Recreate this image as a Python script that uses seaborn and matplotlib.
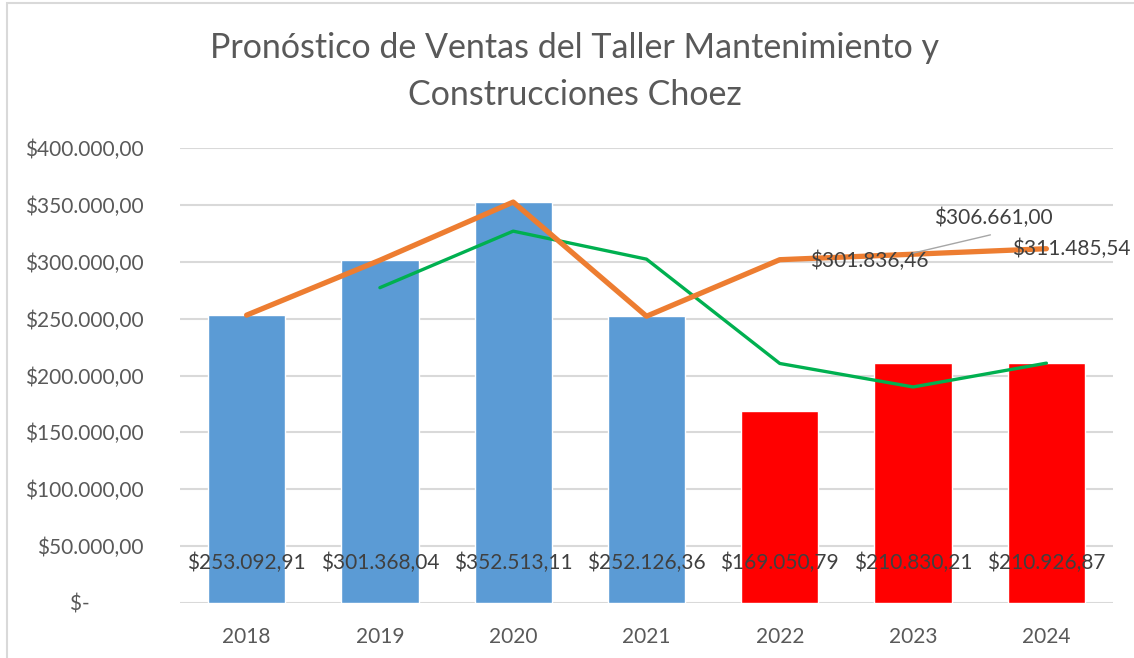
import numpy as np
import pandas as pd
import matplotlib
matplotlib.use("Agg")
import matplotlib.pyplot as plt
import seaborn as sns

# ------------------ data ------------------
years = ["2018", "2019", "2020", "2021", "2022", "2023", "2024"]
ventas = [253092.91, 301368.04, 352513.11, 252126.36, 169050.79, 210830.21, 210926.87]
tipo = ["real", "real", "real", "real", "pron", "pron", "pron"]
tendencia = [253092.91, 301368.04, 352513.11, 252126.36, 301836.46, 306661.00, 311485.54]
media_movil = [np.nan, 277230.48, 326940.58, 302319.74, 210588.58, 189940.50, 210878.54]

def fmt(v):
    s = f"{v:,.2f}"
    return "$" + s.replace(",", "X").replace(".", ",").replace("X", ".")

# ------------------ style ------------------
sns.set_style("white")
plt.rcParams["font.family"] = ["Lato", "DejaVu Sans"]
GREY = "#595959"
LBL = "#404040"
FS = 15

df = pd.DataFrame({"year": years, "ventas": ventas, "tipo": tipo, "pos": np.arange(len(years))})

fig = plt.figure(figsize=(11.34, 6.58), dpi=100)
ax = fig.add_axes([0.1587, 0.0836, 0.8228, 0.6914])

sns.barplot(data=df, x="year", y="ventas", hue="tipo", dodge=False, width=0.58,
            palette={"real": "#5B9BD5", "pron": "#FF0000"}, legend=False,
            saturation=1, ax=ax, zorder=2)
sns.lineplot(x=df["pos"], y=media_movil, color="#00B050", lw=2.4, ax=ax, zorder=3)
sns.lineplot(x=df["pos"], y=tendencia, color="#ED7D31", lw=3.8, ax=ax, zorder=4)

# bar labels (inside base)
for i, v in enumerate(ventas):
    ax.text(i, 35000, fmt(v), ha="center", va="center", fontsize=FS, color=LBL, zorder=5)

# forecast labels on the orange line
ax.text(4.67, tendencia[4] - 1000, fmt(tendencia[4]), ha="center", va="center",
        fontsize=FS, color=LBL, zorder=5)
ax.text(5.6, tendencia[5] + 31800, fmt(tendencia[5]), ha="center", va="center",
        fontsize=FS, color=LBL, zorder=5)
ax.plot([5.58, 5.0], [tendencia[5] + 17000, tendencia[5] + 1000], color="#A6A6A6", lw=1, zorder=5)
ax.text(6.19, tendencia[6], fmt(tendencia[6]), ha="center", va="center",
        fontsize=FS, color=LBL, zorder=5)

# axes
ax.set_ylim(0, 400000)
ax.set_xlim(-0.5, 6.5)
ax.set_yticks(np.arange(0, 400001, 50000))
ax.set_yticklabels(["$-" + " " * 10] + [fmt(v) for v in np.arange(50000, 400001, 50000)])
ax.yaxis.grid(True, color="#D9D9D9", lw=1.5, zorder=0)
ax.set_axisbelow(True)
ax.tick_params(axis="both", length=0, labelsize=FS, labelcolor=GREY)
ax.tick_params(axis="y", pad=26)
ax.tick_params(axis="x", pad=17)
ax.set_xlabel("")
ax.set_ylabel("")
sns.despine(ax=ax, left=True, bottom=True)

fig.text(0.507, 0.927, "Pronóstico de Ventas del Taller Mantenimiento y", ha="center", va="center",
         fontsize=24.5, color=GREY)
fig.text(0.507, 0.855, "Construcciones Choez", ha="center", va="center", fontsize=24.5, color=GREY)

# chart frame
fig.add_artist(plt.Rectangle((7 / 1134, -0.01), 1.1, 1 - 3 / 658 + 0.01, transform=fig.transFigure,
                             fill=False, edgecolor="#D9D9D9", lw=1.5))

fig.savefig("out.png", dpi=100)
